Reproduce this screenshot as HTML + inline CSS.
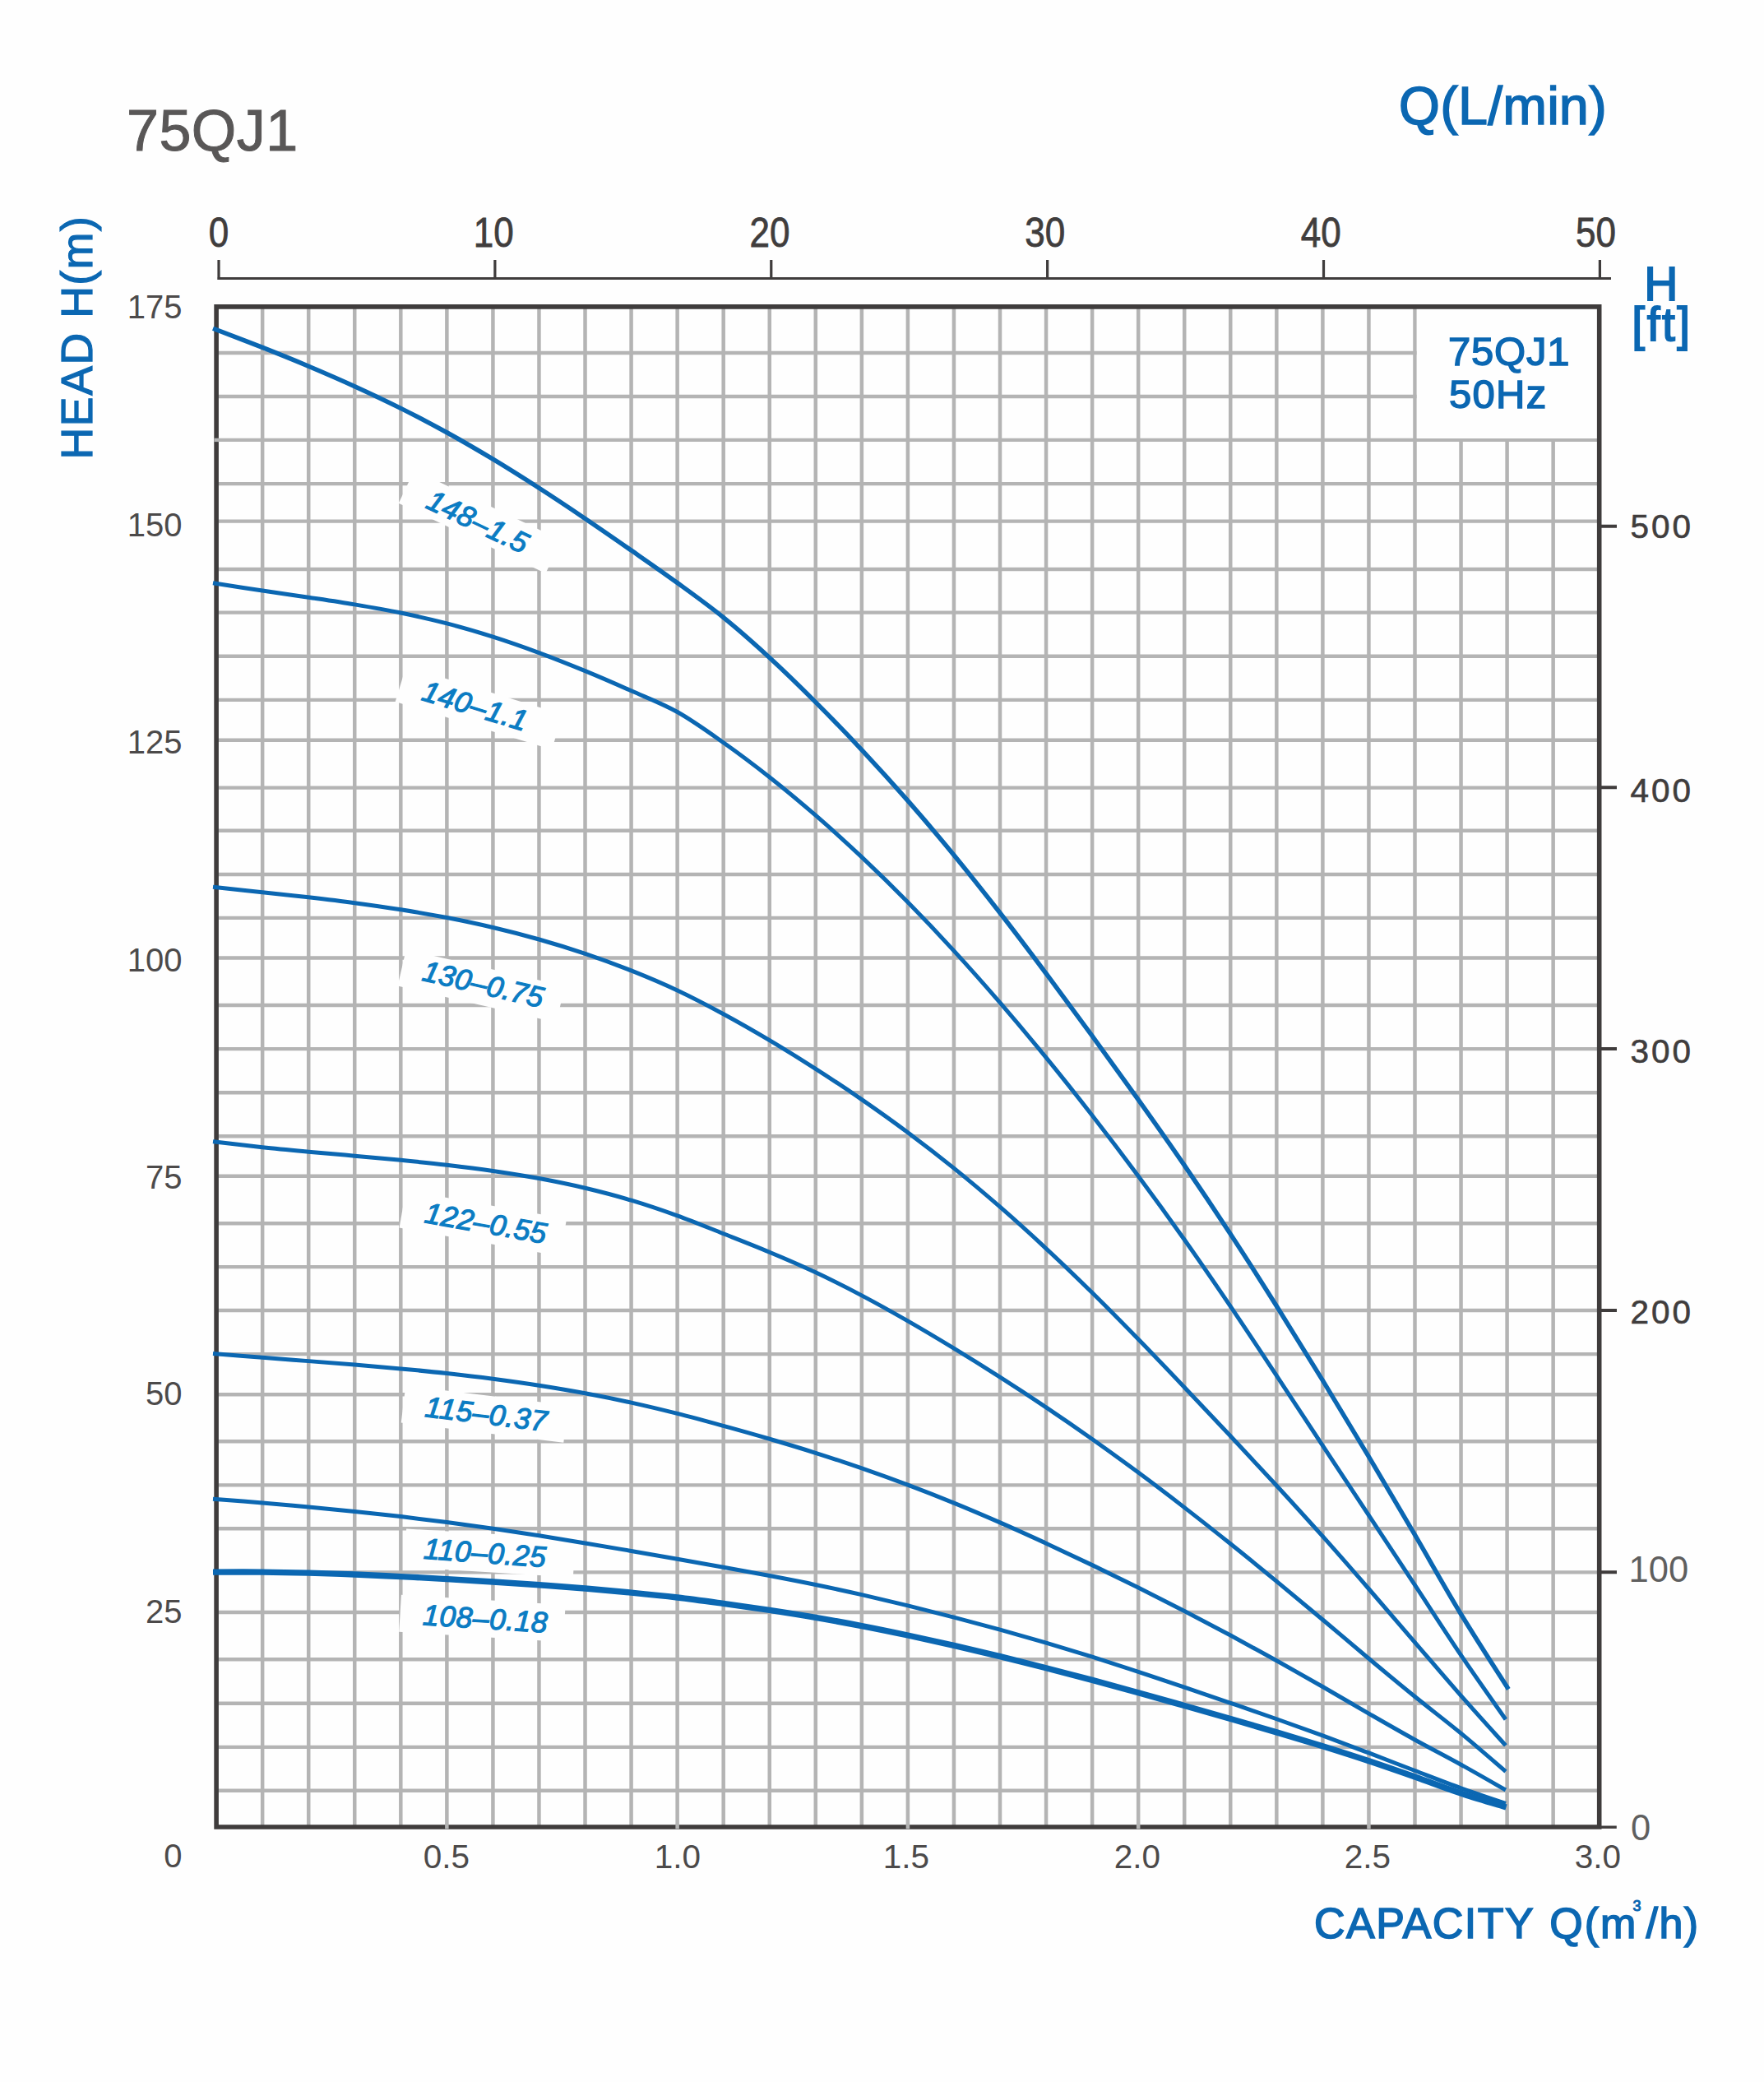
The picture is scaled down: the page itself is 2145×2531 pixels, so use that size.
<!DOCTYPE html>
<html lang="en"><head><meta charset="utf-8"><title>75QJ1 performance curve</title>
<style>
html,body{margin:0;padding:0;background:#fff;overflow:hidden;}
body{width:2145px;height:2531px;overflow:hidden;}
svg{display:block;}
text{font-family:"Liberation Sans",Arial,Helvetica,sans-serif;}
</style></head><body>
<svg width="2145" height="2531" viewBox="0 0 2145 2531">
<rect width="2145" height="2531" fill="#fefefe"/>
<g stroke="#b4b4b4" fill="none">
<path stroke-width="4.5" d="M319.15 372.9V2221M375.21 372.9V2221M431.26 372.9V2221M487.31 372.9V2221M543.37 372.9V2223.2M599.42 372.9V2221M655.47 372.9V2221M711.53 372.9V2221M767.58 372.9V2221M823.63 372.9V2223.2M879.69 372.9V2221M935.74 372.9V2221M991.79 372.9V2221M1047.85 372.9V2221M1103.9 372.9V2223.2M1159.95 372.9V2221M1216.01 372.9V2221M1272.06 372.9V2221M1328.11 372.9V2221M1384.17 372.9V2223.2M1440.22 372.9V2221M1496.27 372.9V2221M1552.33 372.9V2221M1608.38 372.9V2221M1664.43 372.9V2223.2M1720.49 372.9V2221M1776.54 372.9V2221M1832.59 372.9V2221M1888.65 372.9V2221"/>
<path stroke-width="4.4" d="M263.1 429H1944.7M263.1 482H1944.7M260.3 534.9H1944.7M263.1 588.1H1944.7M263.1 633.6H1944.7M263.1 692H1944.7M263.1 744.6H1944.7M263.1 797.8H1944.7M263.1 850.9H1944.7M263.1 899.8H1944.7M263.1 957.6H1944.7M263.1 1009.8H1944.7M263.1 1063H1944.7M263.1 1115.9H1944.7M263.1 1164.5H1944.7M263.1 1222H1944.7M263.1 1275.1H1944.7M263.1 1328.3H1944.7M263.1 1381.2H1944.7M263.1 1429.8H1944.7M263.1 1487.2H1944.7M263.1 1540.1H1944.7M263.1 1593H1944.7M263.1 1646.1H1944.7M263.1 1695.3H1944.7M263.1 1752.2H1944.7M263.1 1805.4H1944.7M263.1 1858.3H1944.7M263.1 1911.4H1944.7M263.1 1960H1944.7M263.1 2017.2H1944.7M263.1 2070.7H1944.7M263.1 2123.9H1944.7M263.1 2176.7H1944.7"/>
</g>
<rect x="1722.8" y="372.9" width="221.9" height="160.1" fill="#fefefe"/>
<rect transform="translate(583.7 634.3) rotate(25.5)" x="-99" y="-22.25" width="198" height="44.5" fill="#fefefe"/>
<rect transform="translate(582.4 860.7) rotate(17)" x="-99.5" y="-22.35" width="199" height="44.7" fill="#fefefe"/>
<rect transform="translate(585.2 1198.6) rotate(13)" x="-99" y="-22.8" width="198" height="45.6" fill="#fefefe"/>
<rect transform="translate(587.3 1487.2) rotate(10)" x="-99.25" y="-23" width="198.5" height="46" fill="#fefefe"/>
<rect transform="translate(589.3 1719.1) rotate(7)" x="-99.5" y="-22.8" width="199" height="45.6" fill="#fefefe"/>
<rect transform="translate(595.5 1888) rotate(3.5)" x="-103" y="-23.35" width="206" height="46.7" fill="#fefefe"/>
<rect transform="translate(586.4 1967.4) rotate(3.5)" x="-100" y="-22.5" width="200" height="45" fill="#fefefe"/>
<g stroke="#3f3c3c" fill="none" stroke-linecap="butt">
<path stroke-width="5.6" d="M263.1 370.1V2223.8M1944.7 370.1V2223.8M263.1 372.9H1944.7M263.1 2221H1944.7"/>
</g>
<path stroke="#b4b4b4" stroke-width="4.5" fill="none" d="M543.37 2217.8V2223.2M823.63 2217.8V2223.2M1103.9 2217.8V2223.2M1384.17 2217.8V2223.2M1664.43 2217.8V2223.2"/>
<path stroke="#b4b4b4" stroke-width="4.4" fill="none" d="M260.3 534.9H266.1"/>
<g stroke="#3f3c3c" fill="none" stroke-linecap="butt">
<path stroke-width="3.2" d="M264.3 338.5H1959M266 316V340M601.88 316V340M937.76 316V340M1273.64 316V340M1609.52 316V340M1945.4 316V340"/>
<path stroke-width="4" d="M1944.7 639.75H1966M1944.7 957.3H1966M1944.7 1275.1H1966M1944.7 1593H1966M1944.7 1911.2H1966"/>
<path stroke-width="3.4" d="M1944.7 2221.2H1965.8"/>
</g>
<g stroke="#0b67b2" fill="none" stroke-linecap="butt" stroke-linejoin="round">
<path stroke-width="5.5" d="M259 399.23C269.03 403.1 299.79 414.76 319.15 422.42C338.52 430.08 356.52 437.33 375.21 445.21C393.89 453.09 412.58 461.16 431.26 469.69C449.94 478.22 468.63 487.02 487.31 496.37C506 505.72 524.68 515.47 543.37 525.77C562.05 536.08 580.74 546.97 599.42 558.22C618.1 569.48 636.79 581.28 655.47 593.31C674.16 605.35 692.84 617.83 711.53 630.45C730.21 643.07 748.9 656.03 767.58 669.04C786.26 682.05 804.95 694.91 823.63 708.5C842.32 722.09 861 735.41 879.69 750.57C898.37 765.74 917.06 782.31 935.74 799.48C954.42 816.64 973.11 834.89 991.79 853.57C1010.48 872.25 1029.16 891.58 1047.85 911.56C1066.53 931.53 1085.22 952.1 1103.9 973.42C1122.58 994.74 1141.27 1016.75 1159.95 1039.48C1178.64 1062.22 1197.32 1085.81 1216.01 1109.81C1234.69 1133.81 1253.38 1158.57 1272.06 1183.5C1290.74 1208.44 1309.43 1233.86 1328.11 1259.41C1346.8 1284.97 1365.48 1310.61 1384.17 1336.82C1402.85 1363.02 1421.54 1389.41 1440.22 1416.64C1458.9 1443.88 1477.59 1471.7 1496.27 1500.2C1514.96 1528.7 1533.64 1558.02 1552.33 1587.67C1571.01 1617.32 1589.7 1647.59 1608.38 1678.12C1627.06 1708.64 1645.75 1739.49 1664.43 1770.8C1683.12 1802.11 1701.8 1834.06 1720.49 1865.96C1739.17 1897.86 1757.57 1930.96 1776.54 1962.22C1795.51 1993.47 1824.67 2038.28 1834.3 2053.5"/>
<path stroke-width="5" d="M259 708.66C269.03 710.22 299.79 715.13 319.15 718.06C338.52 720.99 356.52 723.42 375.21 726.22C393.89 729.02 412.58 731.72 431.26 734.86C449.94 738 468.63 741.21 487.31 745.05C506 748.89 524.68 753.03 543.37 757.88C562.05 762.73 580.74 768.2 599.42 774.15C618.1 780.1 636.79 786.67 655.47 793.59C674.16 800.51 692.84 807.95 711.53 815.66C730.21 823.36 748.9 831.5 767.58 839.81C786.26 848.11 804.95 855.01 823.63 865.5C842.32 875.99 861 889.53 879.69 902.73C898.37 915.94 917.06 929.99 935.74 944.73C954.42 959.48 973.11 975.02 991.79 991.22C1010.48 1007.42 1029.16 1024.34 1047.85 1041.94C1066.53 1059.54 1085.22 1077.84 1103.9 1096.82C1122.58 1115.8 1141.27 1135.48 1159.95 1155.82C1178.64 1176.16 1197.32 1197.22 1216.01 1218.86C1234.69 1240.51 1253.38 1262.83 1272.06 1285.7C1290.74 1308.56 1309.43 1332.04 1328.11 1356.04C1346.8 1380.04 1365.48 1404.55 1384.17 1429.71C1402.85 1454.86 1421.54 1480.56 1440.22 1506.96C1458.9 1533.36 1477.59 1560.55 1496.27 1588.1C1514.96 1615.64 1533.64 1644.04 1552.33 1672.26C1571.01 1700.48 1589.7 1729.11 1608.38 1757.41C1627.06 1785.71 1645.75 1813.79 1664.43 1842.05C1683.12 1870.3 1701.8 1898.58 1720.49 1926.93C1739.17 1955.28 1758.14 1984.92 1776.54 2012.14C1794.94 2039.37 1821.84 2077.25 1830.9 2090.27"/>
<path stroke-width="5" d="M259 1078.26C269.03 1079.33 299.79 1082.58 319.15 1084.68C338.52 1086.77 356.52 1088.68 375.21 1090.85C393.89 1093.03 412.58 1095.23 431.26 1097.73C449.94 1100.22 468.63 1102.83 487.31 1105.8C506 1108.77 524.68 1111.95 543.37 1115.57C562.05 1119.19 580.74 1123.12 599.42 1127.52C618.1 1131.92 636.79 1136.7 655.47 1142C674.16 1147.31 692.84 1153.03 711.53 1159.35C730.21 1165.67 748.9 1172.47 767.58 1179.91C786.26 1187.35 804.95 1195.2 823.63 1204C842.32 1212.8 861 1222.61 879.69 1232.72C898.37 1242.83 917.06 1253.53 935.74 1264.64C954.42 1275.74 973.11 1287.35 991.79 1299.35C1010.48 1311.34 1029.16 1323.7 1047.85 1336.59C1066.53 1349.49 1085.22 1362.78 1103.9 1376.7C1122.58 1390.63 1141.27 1405.05 1159.95 1420.14C1178.64 1435.22 1197.32 1450.95 1216.01 1467.23C1234.69 1483.51 1253.38 1500.42 1272.06 1517.81C1290.74 1535.2 1309.43 1553.19 1328.11 1571.58C1346.8 1589.96 1365.48 1608.95 1384.17 1628.1C1402.85 1647.26 1421.54 1666.89 1440.22 1686.51C1458.9 1706.13 1477.59 1725.92 1496.27 1745.83C1514.96 1765.74 1533.64 1785.66 1552.33 1805.97C1571.01 1826.28 1589.7 1846.78 1608.38 1867.7C1627.06 1888.62 1645.75 1910.03 1664.43 1931.5C1683.12 1952.96 1701.8 1974.87 1720.49 1996.51C1739.17 2018.15 1758.14 2040.44 1776.54 2061.34C1794.94 2082.24 1821.84 2111.82 1830.9 2121.91"/>
<path stroke-width="5" d="M259 1387.73C269.03 1388.89 299.79 1392.62 319.15 1394.69C338.52 1396.76 356.52 1398.41 375.21 1400.15C393.89 1401.9 412.58 1403.47 431.26 1405.17C449.94 1406.86 468.63 1408.48 487.31 1410.32C506 1412.16 524.68 1414.03 543.37 1416.21C562.05 1418.39 580.74 1420.69 599.42 1423.42C618.1 1426.15 636.79 1429.09 655.47 1432.57C674.16 1436.05 692.84 1439.85 711.53 1444.28C730.21 1448.72 748.9 1453.58 767.58 1459.18C786.26 1464.79 804.95 1471.14 823.63 1477.9C842.32 1484.66 861 1492.36 879.69 1499.74C898.37 1507.12 917.06 1514.35 935.74 1522.2C954.42 1530.05 973.11 1538.07 991.79 1546.84C1010.48 1555.62 1029.16 1565.02 1047.85 1574.86C1066.53 1584.7 1085.22 1595.16 1103.9 1605.88C1122.58 1616.6 1141.27 1627.79 1159.95 1639.17C1178.64 1650.54 1197.32 1662.19 1216.01 1674.13C1234.69 1686.07 1253.38 1698.27 1272.06 1710.81C1290.74 1723.36 1309.43 1736.21 1328.11 1749.43C1346.8 1762.64 1365.48 1776.22 1384.17 1790.09C1402.85 1803.96 1421.54 1818.18 1440.22 1832.63C1458.9 1847.08 1477.59 1861.84 1496.27 1876.79C1514.96 1891.74 1533.64 1906.95 1552.33 1922.32C1571.01 1937.68 1589.7 1953.33 1608.38 1968.99C1627.06 1984.65 1645.75 2000.69 1664.43 2016.28C1683.12 2031.87 1701.8 2047.39 1720.49 2062.53C1739.17 2077.68 1758.14 2091.99 1776.54 2107.16C1794.94 2122.33 1821.84 2145.83 1830.9 2153.56"/>
<path stroke-width="5" d="M259 1645.47C269.03 1646.28 299.79 1648.79 319.15 1650.32C338.52 1651.84 356.52 1653.17 375.21 1654.62C393.89 1656.07 412.58 1657.49 431.26 1659.04C449.94 1660.59 468.63 1662.15 487.31 1663.9C506 1665.65 524.68 1667.47 543.37 1669.53C562.05 1671.58 580.74 1673.77 599.42 1676.23C618.1 1678.68 636.79 1681.31 655.47 1684.24C674.16 1687.17 692.84 1690.31 711.53 1693.79C730.21 1697.27 748.9 1701 767.58 1705.1C786.26 1709.21 804.95 1713.69 823.63 1718.4C842.32 1723.11 861 1728.25 879.69 1733.39C898.37 1738.52 917.06 1743.75 935.74 1749.24C954.42 1754.72 973.11 1760.36 991.79 1766.3C1010.48 1772.24 1029.16 1778.41 1047.85 1784.87C1066.53 1791.34 1085.22 1798.07 1103.9 1805.11C1122.58 1812.14 1141.27 1819.47 1159.95 1827.09C1178.64 1834.72 1197.32 1842.69 1216.01 1850.86C1234.69 1859.04 1253.38 1867.52 1272.06 1876.15C1290.74 1884.78 1309.43 1893.65 1328.11 1902.63C1346.8 1911.62 1365.48 1920.74 1384.17 1930.05C1402.85 1939.35 1421.54 1948.8 1440.22 1958.46C1458.9 1968.12 1477.59 1977.96 1496.27 1988C1514.96 1998.04 1533.64 2008.29 1552.33 2018.71C1571.01 2029.13 1589.7 2039.8 1608.38 2050.54C1627.06 2061.27 1645.75 2072.39 1664.43 2083.13C1683.12 2093.86 1701.8 2104.61 1720.49 2114.96C1739.17 2125.3 1758.14 2135.02 1776.54 2145.2C1794.94 2155.38 1821.84 2170.9 1830.9 2176.04"/>
<path stroke-width="5" d="M259 1822.17C269.03 1822.98 299.79 1825.39 319.15 1827.02C338.52 1828.65 356.52 1830.22 375.21 1831.96C393.89 1833.7 412.58 1835.5 431.26 1837.44C449.94 1839.38 468.63 1841.41 487.31 1843.59C506 1845.76 524.68 1848.06 543.37 1850.52C562.05 1852.97 580.74 1855.59 599.42 1858.31C618.1 1861.03 636.79 1863.9 655.47 1866.84C674.16 1869.78 692.84 1872.84 711.53 1875.94C730.21 1879.05 748.9 1882.24 767.58 1885.45C786.26 1888.66 804.95 1891.9 823.63 1895.2C842.32 1898.5 861 1901.86 879.69 1905.24C898.37 1908.63 917.06 1911.97 935.74 1915.51C954.42 1919.06 973.11 1922.66 991.79 1926.52C1010.48 1930.38 1029.16 1934.43 1047.85 1938.66C1066.53 1942.9 1085.22 1947.34 1103.9 1951.91C1122.58 1956.49 1141.27 1961.24 1159.95 1966.12C1178.64 1970.99 1197.32 1976 1216.01 1981.18C1234.69 1986.35 1253.38 1991.66 1272.06 1997.16C1290.74 2002.66 1309.43 2008.34 1328.11 2014.19C1346.8 2020.05 1365.48 2026.14 1384.17 2032.29C1402.85 2038.45 1421.54 2044.79 1440.22 2051.12C1458.9 2057.45 1477.59 2063.84 1496.27 2070.28C1514.96 2076.71 1533.64 2083.14 1552.33 2089.74C1571.01 2096.34 1589.7 2103.02 1608.38 2109.89C1627.06 2116.75 1645.75 2123.85 1664.43 2130.95C1683.12 2138.06 1701.8 2145.39 1720.49 2152.54C1739.17 2159.68 1758.14 2167.17 1776.54 2173.8C1794.94 2180.44 1821.84 2189.24 1830.9 2192.33"/>
<path stroke-width="7.4" d="M259 1911.1C269.03 1911.1 299.79 1910.91 319.15 1911.08C338.52 1911.25 356.52 1911.63 375.21 1912.12C393.89 1912.61 412.58 1913.28 431.26 1914.03C449.94 1914.77 468.63 1915.66 487.31 1916.59C506 1917.52 524.68 1918.55 543.37 1919.62C562.05 1920.68 580.74 1921.78 599.42 1922.96C618.1 1924.15 636.79 1925.37 655.47 1926.72C674.16 1928.07 692.84 1929.49 711.53 1931.05C730.21 1932.61 748.9 1934.26 767.58 1936.09C786.26 1937.91 804.95 1939.78 823.63 1942C842.32 1944.22 861 1946.85 879.69 1949.42C898.37 1951.99 917.06 1954.58 935.74 1957.41C954.42 1960.23 973.11 1963.17 991.79 1966.37C1010.48 1969.56 1029.16 1972.98 1047.85 1976.59C1066.53 1980.19 1085.22 1984.03 1103.9 1988C1122.58 1991.97 1141.27 1996.13 1159.95 2000.41C1178.64 2004.7 1197.32 2009.13 1216.01 2013.68C1234.69 2018.24 1253.38 2022.93 1272.06 2027.72C1290.74 2032.51 1309.43 2037.44 1328.11 2042.45C1346.8 2047.45 1365.48 2052.59 1384.17 2057.77C1402.85 2062.95 1421.54 2068.24 1440.22 2073.53C1458.9 2078.82 1477.59 2084.14 1496.27 2089.52C1514.96 2094.91 1533.64 2100.29 1552.33 2105.83C1571.01 2111.38 1589.7 2116.99 1608.38 2122.81C1627.06 2128.64 1645.75 2134.59 1664.43 2140.8C1683.12 2147.01 1701.8 2153.52 1720.49 2160.07C1739.17 2166.62 1758.04 2173.96 1776.54 2180.11C1795.04 2186.26 1822.34 2194.15 1831.5 2196.96"/>
</g>
<text transform="translate(576 645.2) rotate(25.5) scale(1 1)" x="0" y="0" text-anchor="middle" font-style="italic" font-size="35.5" letter-spacing="0.6" fill="#0b7cc3" stroke="#0b7cc3" stroke-width="1.2">148–1.5</text>
<text transform="translate(574.2 869.8) rotate(17) scale(1 1)" x="0" y="0" text-anchor="middle" font-style="italic" font-size="35.5" letter-spacing="0.5" fill="#0b7cc3" stroke="#0b7cc3" stroke-width="1.2">140–1.1</text>
<text transform="translate(585 1208.3) rotate(13) scale(1 1)" x="0" y="0" text-anchor="middle" font-style="italic" font-size="35.5" letter-spacing="0.2" fill="#0b7cc3" stroke="#0b7cc3" stroke-width="1.2">130–0.75</text>
<text transform="translate(588.8 1499) rotate(10) scale(1 1)" x="0" y="0" text-anchor="middle" font-style="italic" font-size="35.5" letter-spacing="0.2" fill="#0b7cc3" stroke="#0b7cc3" stroke-width="1.2">122–0.55</text>
<text transform="translate(590 1731) rotate(7) scale(1 1)" x="0" y="0" text-anchor="middle" font-style="italic" font-size="35.5" letter-spacing="0.5" fill="#0b7cc3" stroke="#0b7cc3" stroke-width="1.2">115–0.37</text>
<text transform="translate(589 1900) rotate(4) scale(1 1)" x="0" y="0" text-anchor="middle" font-style="italic" font-size="35.5" letter-spacing="0.5" fill="#0b7cc3" stroke="#0b7cc3" stroke-width="1.2">110–0.25</text>
<text transform="translate(589.5 1980) rotate(3.5) scale(1 1)" x="0" y="0" text-anchor="middle" font-style="italic" font-size="35.5" letter-spacing="0.5" fill="#0b7cc3" stroke="#0b7cc3" stroke-width="1.2">108–0.18</text>
<text x="154" y="182.7" stroke="#595757" stroke-width="1" text-anchor="start" font-size="70" letter-spacing="0.5" fill="#595757">75QJ1</text>
<text x="1954" y="150.9" stroke="#0b67b2" stroke-width="1.7" text-anchor="end" font-size="64" letter-spacing="0.5" fill="#0b67b2">Q(L/min)</text>
<text x="2019.8" y="364.5" stroke="#0b67b2" stroke-width="1.8" text-anchor="middle" font-size="57" fill="#0b67b2">H</text>
<text x="2021" y="413.8" stroke="#0b67b2" stroke-width="1.8" text-anchor="middle" font-size="57" letter-spacing="2.5" fill="#0b67b2">[ft]</text>
<text x="1761" y="444.3" stroke="#0b67b2" stroke-width="1.5" text-anchor="start" font-size="49" letter-spacing="0.8" fill="#0b67b2">75QJ1</text>
<text x="1762" y="496.2" stroke="#0b67b2" stroke-width="1.5" text-anchor="start" font-size="49" letter-spacing="1.3" fill="#0b67b2">50Hz</text>
<text transform="translate(111.6 410) rotate(-90) scale(1 1)" x="0" y="0" stroke="#0b67b2" stroke-width="1.2" text-anchor="middle" font-size="53.5" letter-spacing="1.6" fill="#0b67b2">HEAD H(m)</text>
<text font-size="52" fill="#0b67b2" stroke="#0b67b2" stroke-width="1.6"><tspan x="1598" y="2356.2" letter-spacing="1.5">CAPACITY </tspan><tspan x="1884.3" y="2356.2" letter-spacing="2">Q(m</tspan><tspan x="1985.5" y="2323" font-size="18" stroke-width="1">3</tspan><tspan x="2001.5" y="2356.2" letter-spacing="1.5">/h)</tspan></text>
<text transform="translate(266 299.9) rotate(0) scale(0.88 1)" x="0" y="0" stroke="#403d3d" stroke-width="0.8" text-anchor="middle" font-size="50" fill="#403d3d">0</text>
<text transform="translate(600.2 299.9) rotate(0) scale(0.88 1)" x="0" y="0" stroke="#403d3d" stroke-width="0.8" text-anchor="middle" font-size="50" fill="#403d3d">10</text>
<text transform="translate(936 299.9) rotate(0) scale(0.88 1)" x="0" y="0" stroke="#403d3d" stroke-width="0.8" text-anchor="middle" font-size="50" fill="#403d3d">20</text>
<text transform="translate(1270.7 299.9) rotate(0) scale(0.88 1)" x="0" y="0" stroke="#403d3d" stroke-width="0.8" text-anchor="middle" font-size="50" fill="#403d3d">30</text>
<text transform="translate(1606.2 299.9) rotate(0) scale(0.88 1)" x="0" y="0" stroke="#403d3d" stroke-width="0.8" text-anchor="middle" font-size="50" fill="#403d3d">40</text>
<text transform="translate(1940.5 299.9) rotate(0) scale(0.88 1)" x="0" y="0" stroke="#403d3d" stroke-width="0.8" text-anchor="middle" font-size="50" fill="#403d3d">50</text>
<text x="221.5" y="387" text-anchor="end" font-size="40" fill="#4c4a4a">175</text>
<text x="221.5" y="652" text-anchor="end" font-size="40" fill="#4c4a4a">150</text>
<text x="221.5" y="916.4" text-anchor="end" font-size="40" fill="#4c4a4a">125</text>
<text x="221.5" y="1180.8" text-anchor="end" font-size="40" fill="#4c4a4a">100</text>
<text x="221.5" y="1444.8" text-anchor="end" font-size="40" fill="#4c4a4a">75</text>
<text x="221.5" y="1708.2" text-anchor="end" font-size="40" fill="#4c4a4a">50</text>
<text x="221.5" y="1972.9" text-anchor="end" font-size="40" fill="#4c4a4a">25</text>
<text x="221.5" y="2270.2" text-anchor="end" font-size="40" fill="#4c4a4a">0</text>
<text x="542.9" y="2271" text-anchor="middle" font-size="40.5" fill="#4c4a4a">0.5</text>
<text x="824" y="2271" text-anchor="middle" font-size="40.5" fill="#4c4a4a">1.0</text>
<text x="1102" y="2271" text-anchor="middle" font-size="40.5" fill="#4c4a4a">1.5</text>
<text x="1382.8" y="2271" text-anchor="middle" font-size="40.5" fill="#4c4a4a">2.0</text>
<text x="1662.9" y="2271" text-anchor="middle" font-size="40.5" fill="#4c4a4a">2.5</text>
<text x="1943" y="2271" text-anchor="middle" font-size="40.5" fill="#4c4a4a">3.0</text>
<text x="1982.5" y="654.3" stroke="#403d3d" stroke-width="0.6" text-anchor="start" font-size="40.5" letter-spacing="3" fill="#403d3d">500</text>
<text x="1982.5" y="975" stroke="#403d3d" stroke-width="0.6" text-anchor="start" font-size="40.5" letter-spacing="3" fill="#403d3d">400</text>
<text x="1982.5" y="1291.5" stroke="#403d3d" stroke-width="0.6" text-anchor="start" font-size="40.5" letter-spacing="3" fill="#403d3d">300</text>
<text x="1982.5" y="1608.5" stroke="#403d3d" stroke-width="0.6" text-anchor="start" font-size="40.5" letter-spacing="3" fill="#403d3d">200</text>
<text x="1980.5" y="1923.1" text-anchor="start" font-size="43.5" fill="#5f5f5f">100</text>
<text x="1983" y="2237" text-anchor="start" font-size="43.5" fill="#5f5f5f">0</text>
</svg>
</body></html>
